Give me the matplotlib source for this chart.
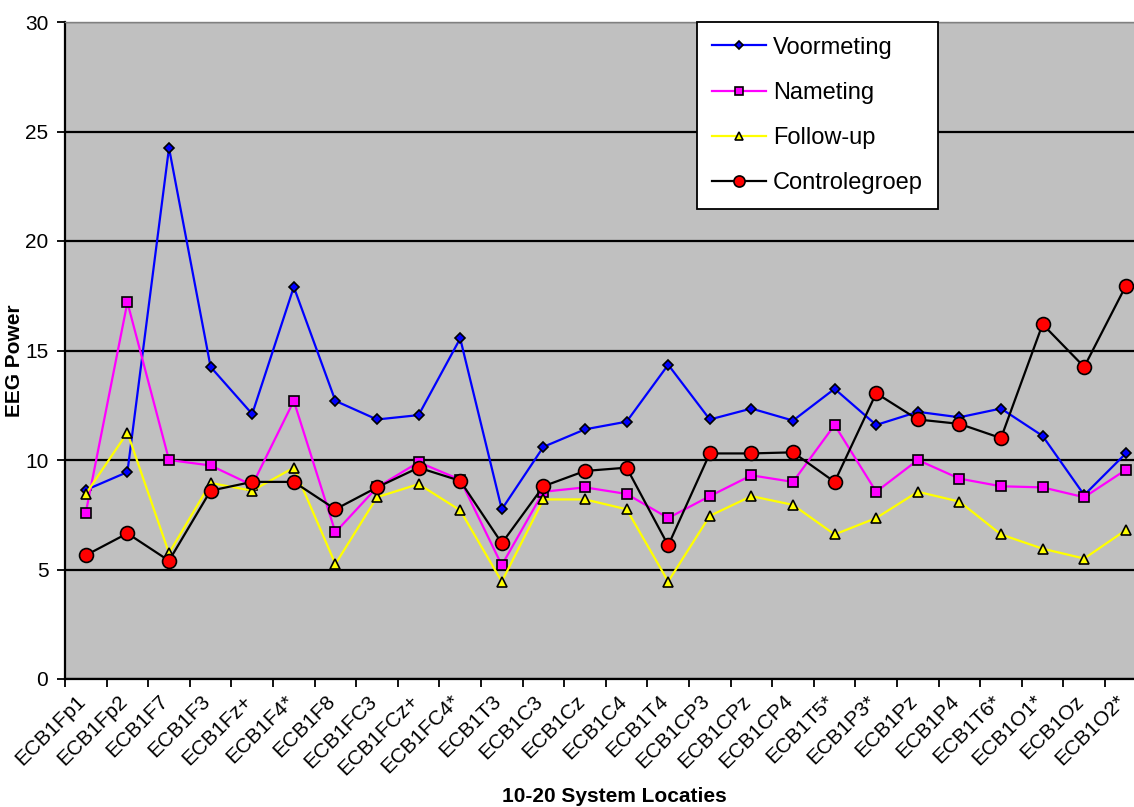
import matplotlib
matplotlib.use("Agg")
import matplotlib.pyplot as plt
import matplotlib.transforms as mtransforms
import numpy as np

plt.rcParams['font.family'] = ['Liberation Sans', 'DejaVu Sans']

categories = ["ECB1Fp1", "ECB1Fp2", "ECB1F7", "ECB1F3", "ECB1Fz+", "ECB1F4*", "ECB1F8",
              "ECB1FC3", "ECB1FCz+", "ECB1FC4*", "ECB1T3", "ECB1C3", "ECB1Cz", "ECB1C4",
              "ECB1T4", "ECB1CP3", "ECB1CPz", "ECB1CP4", "ECB1T5*", "ECB1P3*", "ECB1Pz",
              "ECB1P4", "ECB1T6*", "ECB1O1*", "ECB1Oz", "ECB1O2*"]

voormeting = [8.63, 9.45, 24.25, 14.25, 12.1, 17.9, 12.7, 11.85, 12.05, 15.55, 7.75, 10.6,
              11.4, 11.75, 14.35, 11.85, 12.35, 11.8, 13.25, 11.6, 12.2, 11.95, 12.35, 11.1,
              8.4, 10.3]
nameting = [7.6, 17.2, 10.0, 9.75, 8.85, 12.7, 6.7, 8.75, 9.9, 9.1, 5.2, 8.55, 8.75, 8.45,
            7.35, 8.35, 9.3, 9.0, 11.6, 8.55, 10.0, 9.15, 8.8, 8.75, 8.3, 9.55]
follow_up = [8.45, 11.25, 5.75, 8.95, 8.6, 9.65, 5.25, 8.3, 8.9, 7.7, 4.45, 8.2, 8.2, 7.75,
             4.45, 7.45, 8.35, 7.95, 6.6, 7.35, 8.55, 8.1, 6.6, 5.95, 5.5, 6.8]
controlegroep = [5.65, 6.65, 5.4, 8.6, 9.0, 9.0, 7.75, 8.75, 9.65, 9.05, 6.2, 8.8, 9.5, 9.65,
                 6.1, 10.3, 10.3, 10.35, 9.0, 13.05, 11.85, 11.65, 11.0, 16.2, 14.25, 17.95]

W, H = 1134, 807
fig = plt.figure(figsize=(W / 100, H / 100), dpi=100)
fig.patch.set_facecolor('white')
left, right, top, bottom = 65, 1146.6, 22, 679
aw, ah = right - left, bottom - top
ax = fig.add_axes([left / W, 1 - bottom / H, aw / W, ah / H])
ax.set_facecolor('#c0c0c0')

x = np.arange(len(categories))
ax.plot(x, voormeting, color='#0000ff', lw=1.6, marker='D', ms=5.5, mfc='#0000ff',
        mec='black', mew=1.2, label='Voormeting', zorder=3)
ax.plot(x, nameting, color='#ff00ff', lw=1.6, marker='s', ms=7, mfc='#ff00ff',
        mec='black', mew=1.2, label='Nameting', zorder=3)
ax.plot(x, follow_up, color='#ffff00', lw=1.6, marker='^', ms=7, mfc='#ffff00',
        mec='black', mew=1.2, label='Follow-up', zorder=3)
ax.plot(x, controlegroep, color='black', lw=1.6, marker='o', ms=10, mfc='#ff0000',
        mec='black', mew=1.2, label='Controlegroep', zorder=4)

ax.set_xlim(-0.5, len(categories) - 0.5)
ax.set_ylim(0, 30)
ax.set_yticks(np.arange(0, 31, 5))
ax.yaxis.grid(True, color='black', lw=1.6)
ax.set_axisbelow(True)

ax.set_xticks(x)
ax.set_xticklabels(categories, rotation=45, ha='right', rotation_mode='anchor', fontsize=15)
ax.set_xticks(np.arange(-0.5, len(categories), 1), minor=True)
ax.tick_params(axis='x', which='major', length=0, pad=9)
ax.tick_params(axis='x', which='minor', length=6, width=1.3, direction='out')
ax.tick_params(axis='y', length=6, width=1.3, labelsize=15, pad=6)
offset = mtransforms.ScaledTranslation(-10 / 100, 0, fig.dpi_scale_trans)
for lbl in ax.get_xticklabels():
    lbl.set_transform(lbl.get_transform() + offset)

for s in ['top', 'right']:
    ax.spines[s].set_color('#808080')
    ax.spines[s].set_linewidth(1)
for s in ['left', 'bottom']:
    ax.spines[s].set_color('black')
    ax.spines[s].set_linewidth(1.6)

ax.set_ylabel('EEG Power', fontsize=15, fontweight='bold')
ax.yaxis.set_label_coords((15 - left) / aw, (bottom - 361) / ah)
ax.yaxis.label.set_va('center')
ax.set_xlabel('10-20 System Locaties', fontsize=15, fontweight='bold')
ax.xaxis.set_label_coords((614 - left) / aw, (bottom - 797) / ah)
ax.xaxis.label.set_va('center')

leg = ax.legend(loc='upper left', bbox_to_anchor=((697 - left) / aw, 1.0),
                borderaxespad=0, fontsize=17, frameon=True, fancybox=False, framealpha=1,
                edgecolor='black', borderpad=0.62, labelspacing=0.98,
                handlelength=2.3, handletextpad=0.3)
leg.get_frame().set_linewidth(1.3)
for h in leg.legend_handles:
    h.set_markersize(h.get_markersize() * 0.8)

fig.savefig('out.png', dpi=100)
